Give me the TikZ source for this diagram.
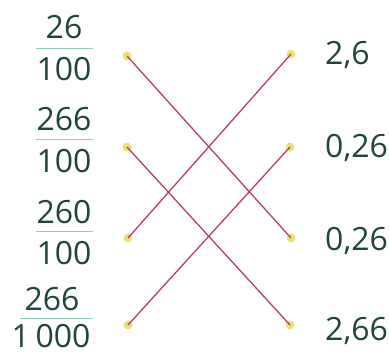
\documentclass[tikz,border=0pt]{standalone}
\usepackage{fontspec}
\setmainfont{Open Sans}
\definecolor{txt}{RGB}{32,70,56}
\definecolor{barc}{RGB}{140,206,186}
\definecolor{linec}{RGB}{180,62,106}
\definecolor{dotc}{RGB}{232,226,120}
\tikzset{
  num/.style={anchor=base,inner sep=0pt,text=txt,font=\fontsize{32}{38}\selectfont},
  lab/.style={anchor=base west,inner sep=0pt,text=txt,font=\fontsize{32}{38}\selectfont},
  fbar/.style={draw=barc,line width=1pt},
  dotn/.style={circle,fill=dotc,minimum size=9pt,inner sep=0pt},
  link/.style={draw=linec,line width=1.3pt}
}
\begin{document}
\begin{tikzpicture}[x=1pt,y=-1pt]
\useasboundingbox (0,0) rectangle (389,356);
% fractions
\node[num] (n1) at (64,38) {26};
\node[num] (d1) at (64,80) {100};
\coordinate (b1a) at (36,48); \coordinate (b1b) at (93,48);
\draw[fbar] (b1a) -- (b1b);
\node[num] (n2) at (64,130) {266};
\node[num] (d2) at (64,172) {100};
\coordinate (b2a) at (36,139); \coordinate (b2b) at (93,139);
\draw[fbar] (b2a) -- (b2b);
\node[num] (n3) at (64,223) {260};
\node[num] (d3) at (64,264) {100};
\coordinate (b3a) at (36,231); \coordinate (b3b) at (93,231);
\draw[fbar] (b3a) -- (b3b);
\node[num] (n4) at (52,310) {266};
\node[num] (d4) at (51,347) {1\hspace{0.18em}000};
\coordinate (b4a) at (20,318); \coordinate (b4b) at (93,318);
\draw[fbar] (b4a) -- (b4b);
% right labels
\node[lab] (r1t) at (325,64) {2,6};
\node[lab] (r2t) at (325,157) {0,26};
\node[lab] (r3t) at (325,250) {0,26};
\node[lab] (r4t) at (325,340) {2,66};
% dots
\node[dotn] (L1) at (127,56) {};
\node[dotn] (L2) at (127,147) {};
\node[dotn] (L3) at (128,238) {};
\node[dotn] (L4) at (128,325) {};
\node[dotn] (R1) at (291,54) {};
\node[dotn] (R2) at (290,147) {};
\node[dotn] (R3) at (291,238) {};
\node[dotn] (R4) at (290,325) {};
% links
\draw[link] (L1.center) -- (R3.center);
\draw[link] (L2.center) -- (R4.center);
\draw[link] (L3.center) -- (R1.center);
\draw[link] (L4.center) -- (R2.center);
\end{tikzpicture}
\end{document}
